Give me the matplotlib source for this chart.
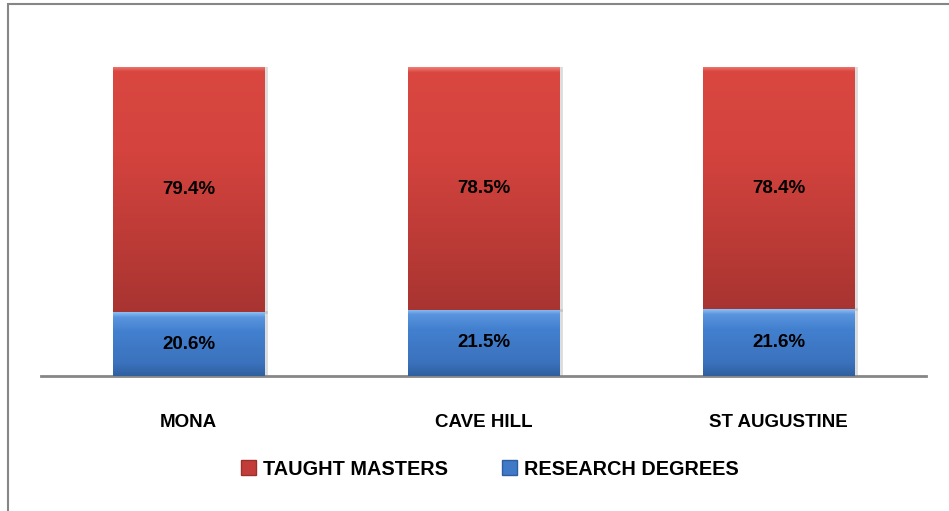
import matplotlib.pyplot as plt
import numpy as np
from matplotlib.colors import LinearSegmentedColormap
from matplotlib.patches import Rectangle, Patch

plt.rcParams['font.family'] = ['Liberation Sans', 'DejaVu Sans']

campuses = ['MONA', 'CAVE HILL', 'ST AUGUSTINE']
research = [20.6, 21.5, 21.6]
taught = [79.4, 78.5, 78.4]
series_names = ['TAUGHT MASTERS', 'RESEARCH DEGREES']

W, H = 949, 511
fig = plt.figure(figsize=(W / 100, H / 100), dpi=100)
ax = fig.add_axes([41 / W, (H - 376) / H, (926 - 41) / W, (376 - 67) / H])

x = np.arange(len(campuses))
bw = 0.515

# gradient colour ramps (top -> bottom)
red_cmap = LinearSegmentedColormap.from_list(
    'r', [(0, '#ee7a74'), (0.02, '#da4741'), (0.35, '#d4433e'), (0.8, '#b63935'), (1, '#a83431')])
blue_cmap = LinearSegmentedColormap.from_list(
    'b', [(0, '#8cc0f4'), (0.08, '#5a94de'), (0.3, '#4280cf'), (0.8, '#3b72bd'), (1, '#2f5f9f')])

bars_r = ax.bar(x, research, bw, color='#3f79c8', zorder=2)
bars_t = ax.bar(x, taught, bw, bottom=research, color='#c23d39', zorder=2)

grad = np.linspace(0, 1, 256).reshape(-1, 1)
for bars, cmap in [(bars_r, blue_cmap), (bars_t, red_cmap)]:
    for b in bars:
        x0, y0 = b.get_x(), b.get_y()
        im = ax.imshow(grad, cmap=cmap, aspect='auto', zorder=3,
                       extent=[x0, x0 + b.get_width(), y0, y0 + b.get_height()])
        im.set_clip_path(b)
        # soft shadow on right side
        ax.plot([x0 + b.get_width() + 0.006] * 2, [y0, y0 + b.get_height()],
                color='#999999', alpha=0.35, lw=2, zorder=1)

for i in range(len(campuses)):
    ax.text(x[i], research[i] / 2, f'{research[i]:.1f}%', ha='center', va='center',
            fontsize=13.5, fontweight='bold', color='black', zorder=5)
    ax.text(x[i], research[i] + taught[i] / 2, f'{taught[i]:.1f}%', ha='center', va='center',
            fontsize=13.5, fontweight='bold', color='black', zorder=5)

ax.set_xlim(-0.5, 2.5)
ax.set_ylim(0, 100)
ax.set_yticks([])
ax.set_xticks(x)
ax.set_xticklabels(campuses, fontsize=13.5, fontweight='bold')
ax.tick_params(axis='x', length=0, pad=27)
for s in ['top', 'right', 'left']:
    ax.spines[s].set_visible(False)
ax.spines['bottom'].set_color('#868686')
ax.spines['bottom'].set_linewidth(2)

handles = [Patch(facecolor='#c23d39', edgecolor='#9a2f2c'),
           Patch(facecolor='#3f79c8', edgecolor='#2f5e9e')]
fig.legend(handles, series_names, loc='center', bbox_to_anchor=(490 / W, (H - 469) / H),
           ncol=2, frameon=False, handlelength=0.75, handleheight=0.75, handletextpad=0.35,
           columnspacing=2.75, prop={'weight': 'bold', 'size': 14.3})

# outer frame of the chart
fig.patches.append(Rectangle((8 / W, -0.1), 1.2, (H - 4) / H + 0.1, transform=fig.transFigure,
                             fill=False, edgecolor='#868686', lw=1.5))

fig.savefig('out.png', dpi=100)
